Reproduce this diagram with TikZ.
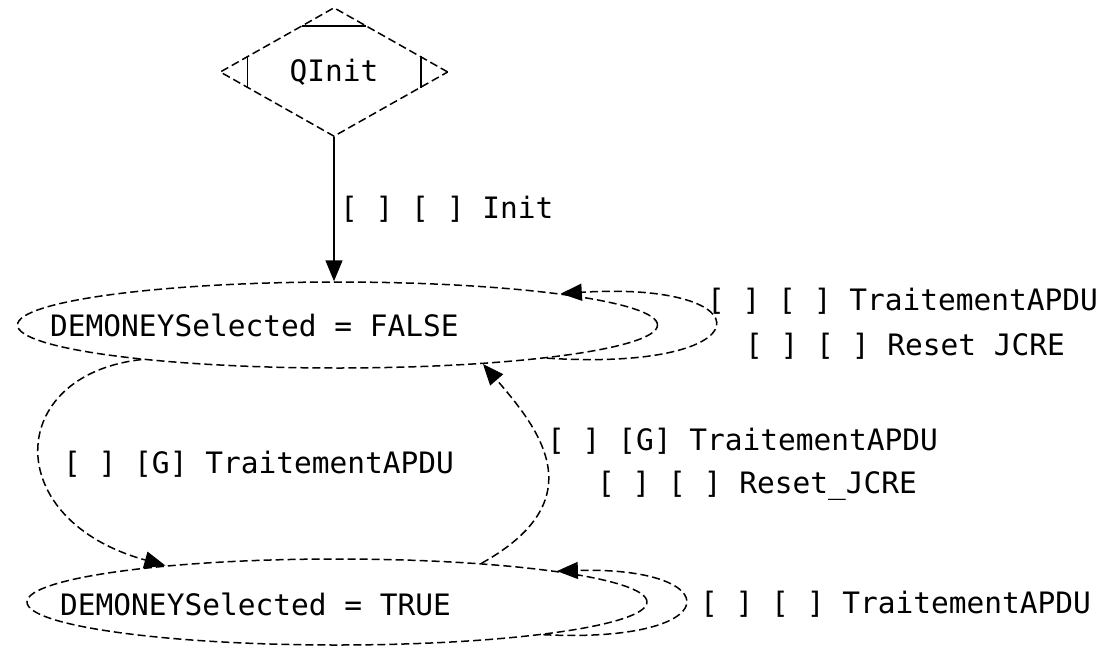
\documentclass[tikz,border=0pt]{standalone}
\usepackage{fontspec}
\setmonofont{DejaVu Sans Mono}
\usetikzlibrary{arrows.meta,shapes.geometric,calc}
\begin{document}
\begin{tikzpicture}[x=1pt,y=-1pt,
  txt/.style={font=\ttfamily\fontsize{29.5}{32}\selectfont},
  lbl/.style={txt, inner sep=0pt, anchor=west},
  dsh/.style={line width=1.5pt, dash pattern=on 8pt off 4pt},
  state/.style={draw, ellipse, dsh, inner sep=0pt},
  tr/.style={line width=1.5pt, -{Triangle[length=21pt,width=17pt]}},
  cut/.style={line width=1.5pt},
]
\path[use as bounding box, fill=white] (0,0) rectangle (1111,648);

% initial state (Mdiamond)
\node[draw, diamond, dsh, txt, minimum width=228pt, minimum height=129pt, inner sep=0pt] (Q) at (334,72) {QInit};
\draw[cut] ($(Q.north)+(-32,19)$) -- ($(Q.north)+(32,19)$);
\draw[cut] ($(Q.west)+(28,-16)$) -- ($(Q.west)+(28,16)$);
\draw[cut] ($(Q.east)+(-28,-16)$) -- ($(Q.east)+(-28,16)$);

% states
\node[state, minimum width=640pt, minimum height=86pt] (F) at (337.5,325) {};
\node[lbl] (Ft) at (50,325) {DEMONEYSelected = FALSE};
\node[state, minimum width=620pt, minimum height=86pt] (T) at (337,602) {};
\node[lbl] (Tt) at (60,604) {DEMONEYSelected = TRUE};

% transitions
\draw[tr] (Q.south) -- (Q.south |- F.north);
\draw[tr,dsh] (F.-9.3) .. controls +(220,14) and +(207,-13) .. (F.8.4);
\draw[tr,dsh] (T.-9.9) .. controls +(186,9) and +(171,-5) .. (T.8.7);
\draw[tr,dsh] (F.190.3) .. controls (5,375) and (0,520) .. (T.168.2);
\draw[tr,dsh] (T.15.8) .. controls (595,500) and (540,430) .. (F.-15.5);

% labels
\node[lbl] (l1) at (340,209) {[ ] [ ] Init};
\node[lbl] (l2) at (707,301) {[ ] [ ] TraitementAPDU};
\node[lbl] (l3) at (745,346) {[ ] [ ] Reset JCRE};
\node[lbl] (l4) at (63,464) {[ ] [G] TraitementAPDU};
\node[lbl] (l5) at (547,441) {[ ] [G] TraitementAPDU};
\node[lbl] (l6) at (597,486) {[ ] [ ] Reset\_JCRE};
\node[lbl] (l7) at (700,604) {[ ] [ ] TraitementAPDU};
\end{tikzpicture}
\end{document}
